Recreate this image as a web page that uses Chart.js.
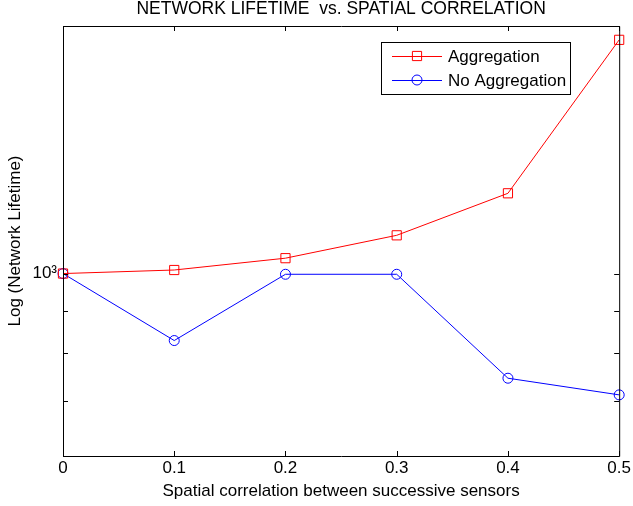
<!DOCTYPE html>
<html>
<head>
<meta charset="utf-8">
<script src="https://cdn.jsdelivr.net/npm/chart.js@4"></script>
<style>
  html, body { margin: 0; padding: 0; background: #fff; }
  #wrap { width: 633px; height: 506px; }
</style>
</head>
<body>
<div id="wrap"><canvas id="grafica"></canvas></div>
<script>
// datos
const correlacion = [0, 0.1, 0.2, 0.3, 0.4, 0.5];
const conAgregacion = [1000, 1010, 1044, 1113, 1252, 1924];
const sinAgregacion = [1000, 829, 998, 998, 746, 712];
const yTicks = [600, 700, 800, 900, 1000, 2000];
const xTicks = [0, 0.1, 0.2, 0.3, 0.4, 0.5];
const titulo = 'NETWORK LIFETIME  vs. SPATIAL CORRELATION';

const fuente = 'Liberation Sans, Arial, sans-serif';

// caja estilo matlab: borde arriba/derecha, ticks hacia adentro, titulo y leyenda
const cajaMatlab = {
    id: 'cajaMatlab',
    afterDraw(chart) {
        const ctx = chart.ctx;
        const a = chart.chartArea;
        const x = chart.scales.x, y = chart.scales.y;
        const L = 5;
        ctx.save();
        ctx.strokeStyle = '#000';
        ctx.lineWidth = 1;
        ctx.beginPath();
        ctx.rect(a.left + 0.5, a.top + 0.5, a.right - a.left, a.bottom - a.top);
        x.ticks.forEach(t => {
            const px = Math.round(x.getPixelForValue(t.value)) + 0.5;
            ctx.moveTo(px, a.bottom); ctx.lineTo(px, a.bottom - L);
            ctx.moveTo(px, a.top); ctx.lineTo(px, a.top + L);
        });
        y.ticks.forEach(t => {
            const py = Math.round(y.getPixelForValue(t.value)) + 0.5;
            ctx.moveTo(a.left, py); ctx.lineTo(a.left + L, py);
            ctx.moveTo(a.right, py); ctx.lineTo(a.right - L, py);
        });
        ctx.stroke();

        // titulo centrado sobre el area de la grafica
        ctx.fillStyle = '#000';
        ctx.font = '17.5px ' + fuente;
        ctx.textAlign = 'center';
        ctx.textBaseline = 'middle';
        ctx.fillText(titulo, (a.left + a.right) / 2, 9);

        // leyenda
        const lx = 381, ly = 42, lw = 189, lh = 52;
        ctx.fillStyle = '#fff';
        ctx.fillRect(lx, ly, lw, lh);
        ctx.strokeRect(lx + 0.5, ly + 0.5, lw, lh);
        ctx.font = '17px ' + fuente;
        ctx.textAlign = 'left';
        chart.data.datasets.forEach((ds, i) => {
            const ry = ly + 14 + i * 24;
            ctx.strokeStyle = ds.borderColor;
            ctx.beginPath();
            ctx.moveTo(392, ry + 0.5); ctx.lineTo(442, ry + 0.5);
            ctx.stroke();
            ctx.fillStyle = 'rgba(0,0,0,0)';
            Chart.helpers.drawPoint(ctx, {pointStyle: ds.pointStyle, radius: ds.pointRadius, borderWidth: 1}, 417, ry);
            ctx.fillStyle = '#000';
            ctx.fillText(ds.label, 448, ry + 1);
        });
        ctx.restore();
    }
};

new Chart(document.getElementById('grafica'), {
    type: 'line',
    data: {
        datasets: [{
            label: 'Aggregation',
            data: correlacion.map((c, i) => ({x: c, y: conAgregacion[i]})),
            borderColor: '#ff0000',
            backgroundColor: 'transparent',
            borderWidth: 1,
            pointStyle: 'rect',
            pointRadius: 6.5,
            pointBorderWidth: 1,
            clip: false
        }, {
            label: 'No Aggregation',
            data: correlacion.map((c, i) => ({x: c, y: sinAgregacion[i]})),
            borderColor: '#0000ff',
            backgroundColor: 'transparent',
            borderWidth: 1,
            pointStyle: 'circle',
            pointRadius: 5,
            pointBorderWidth: 1,
            clip: false
        }]
    },
    options: {
        responsive: true,
        maintainAspectRatio: false,
        animation: false,
        layout: { padding: { left: 0, right: 13, top: 26, bottom: 4 } },
        plugins: {
            legend: { display: false },
            tooltip: { enabled: false },
            title: { display: false }
        },
        scales: {
            x: {
                type: 'linear',
                min: 0,
                max: 0.5,
                afterBuildTicks: s => { s.ticks = xTicks.map(v => ({value: v})); },
                afterFit: s => { s.height = 46; },
                grid: { display: false, tickLength: 0 },
                border: { display: false },
                ticks: {
                    color: '#000',
                    font: { family: fuente, size: 17 },
                    padding: 2,
                    maxRotation: 0,
                    callback: v => String(v)
                },
                title: {
                    display: true,
                    text: 'Spatial correlation between successive sensors',
                    color: '#000',
                    font: { family: fuente, size: 17 },
                    padding: { top: 0, bottom: 0 }
                }
            },
            y: {
                type: 'logarithmic',
                min: 600,
                max: 2000,
                afterBuildTicks: s => { s.ticks = yTicks.map(v => ({value: v})); },
                afterFit: s => { s.width = 63; },
                grid: { display: false, tickLength: 0 },
                border: { display: false },
                ticks: {
                    color: '#000',
                    font: { family: fuente, size: 17 },
                    padding: 6,
                    callback: v => v === 1000 ? '10\u00B3' : ''
                },
                title: {
                    display: true,
                    text: 'Log (Network Lifetime)',
                    color: '#000',
                    font: { family: fuente, size: 17 },
                    padding: { top: 5, bottom: 0 }
                }
            }
        }
    },
    plugins: [cajaMatlab]
});
</script>
</body>
</html>
